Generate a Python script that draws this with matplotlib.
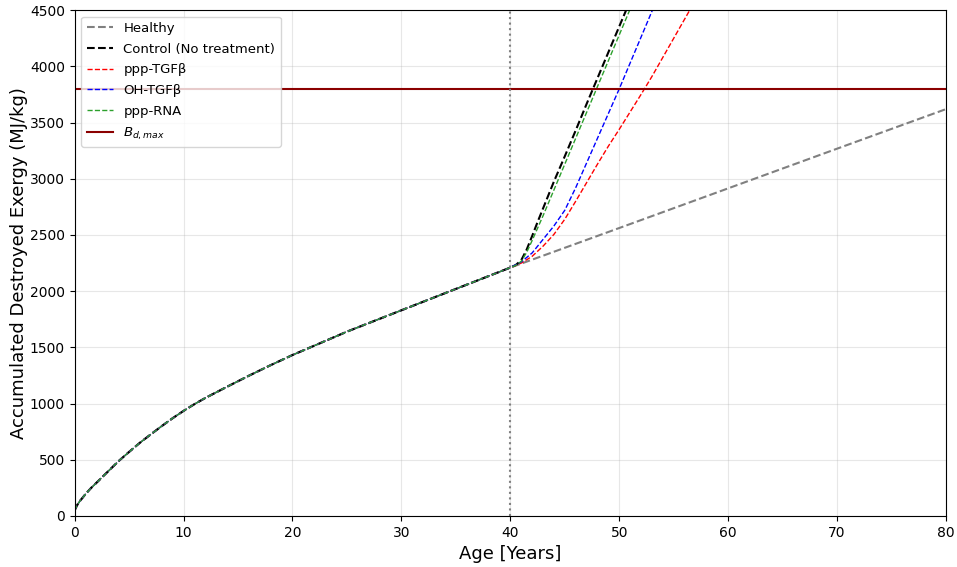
import matplotlib
matplotlib.use("Agg")
import matplotlib.pyplot as plt

# Healthy trajectory (shared by all before treatment at age 40)
age_pre = [0, 0.25, 0.5, 1, 1.5, 2, 3, 4, 5, 6, 7, 8, 9, 10, 11, 12, 14, 16, 18, 20,
           22, 25, 30, 35, 40]
exergy_pre = [50, 100, 135, 195, 248, 295, 390, 485, 570, 652, 727, 800, 870, 935,
              995, 1050, 1150, 1248, 1342, 1432, 1515, 1640, 1830, 2020, 2210]

age_healthy_post = [40, 50, 60, 70, 80]
healthy_post = [2210, 2562, 2915, 3268, 3620]

age_control = [40, 40.5, 41, 41.5, 42, 42.5, 43, 44, 45, 46, 47, 48, 49, 50, 51]
control = [2210, 2233, 2275, 2370, 2490, 2615, 2735, 2975, 3200, 3430, 3665, 3895, 4125,
           4355, 4585]

age_rna = [40, 40.5, 41, 41.5, 42, 42.5, 43, 44, 45, 46, 47, 48, 49, 50, 51, 52]
ppp_rna = [2210, 2230, 2265, 2345, 2450, 2560, 2670, 2900, 3130, 3360, 3590, 3820, 4050,
           4280, 4510, 4740]

age_oh = [40, 41, 42, 43, 44, 45, 46, 47, 48, 49, 50, 51, 52, 53, 54]
oh_tgfb = [2210, 2260, 2340, 2460, 2580, 2720, 2920, 3140, 3360, 3580, 3800, 4030, 4260,
           4490, 4720]

age_ppp = [40, 41, 42, 43, 44, 45, 46, 47, 48, 49, 50, 51, 52, 53, 54, 55, 56, 57]
ppp_tgfb = [2210, 2250, 2310, 2400, 2505, 2640, 2800, 2965, 3130, 3290, 3440, 3595, 3750,
            3910, 4080, 4250, 4420, 4590]

B_d_max = 3800
treatment_age = 40


def full(age_post, vals_post):
    return age_pre[:-1] + age_post, exergy_pre[:-1] + vals_post


fig = plt.figure(figsize=(9.57, 5.67), dpi=100)
ax = fig.add_axes([0.078, 0.09, 0.9105, 0.892])

x, y = full(age_healthy_post, healthy_post)
ax.plot(x, y, '--', color='gray', lw=1.5, label='Healthy')
x, y = full(age_control, control)
ax.plot(x, y, '--', color='black', lw=1.5, label='Control (No treatment)')
x, y = full(age_ppp, ppp_tgfb)
ax.plot(x, y, '--', color='red', lw=1, label='ppp-TGFβ')
x, y = full(age_oh, oh_tgfb)
ax.plot(x, y, '--', color='blue', lw=1, label='OH-TGFβ')
x, y = full(age_rna, ppp_rna)
ax.plot(x, y, '--', color='tab:green', lw=1, label='ppp-RNA')
ax.axhline(B_d_max, color='darkred', lw=1.5, label=r'$B_{d,max}$')
ax.axvline(treatment_age, color='gray', ls=':', lw=1.5)

ax.set_xlim(0, 80)
ax.set_ylim(0, 4500)
ax.set_xticks(range(0, 81, 10))
ax.set_yticks(range(0, 4501, 500))
ax.grid(True, alpha=0.3)
ax.set_xlabel('Age [Years]', fontsize=13)
ax.set_ylabel('Accumulated Destroyed Exergy (MJ/kg)', fontsize=13, labelpad=1)
ax.legend(loc='upper left', fontsize=9.5, labelspacing=0.58)

fig.savefig('out.png', dpi=100)
